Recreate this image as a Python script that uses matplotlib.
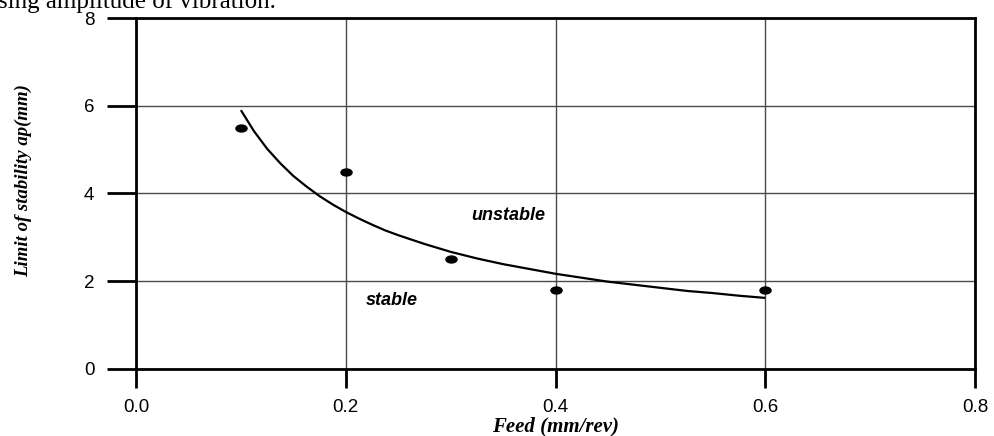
import numpy as np
import matplotlib.pyplot as plt
from matplotlib.path import Path
from matplotlib.transforms import Affine2D

plt.rcParams['font.family'] = 'Liberation Sans'
plt.rcParams['font.size'] = 13.5

# measured points
feed = [0.1, 0.2, 0.3, 0.4, 0.6]
ap = [5.5, 4.5, 2.5, 1.8, 1.8]

# fitted stability limit curve
curve_x = [0.1000, 0.1125, 0.1250, 0.1375, 0.1500, 0.1625, 0.1750, 0.1875,
           0.2000, 0.2125, 0.2250, 0.2375, 0.2500, 0.2750, 0.3000, 0.3250,
           0.3500, 0.3750, 0.4000, 0.4250, 0.4500, 0.4750, 0.5000, 0.5250,
           0.5500, 0.5750, 0.6000]
curve_y = [5.90, 5.42, 5.02, 4.69, 4.40, 4.16, 3.94, 3.75,
           3.58, 3.43, 3.29, 3.16, 3.05, 2.85, 2.67, 2.52,
           2.39, 2.28, 2.17, 2.08, 1.99, 1.92, 1.85, 1.78,
           1.73, 1.67, 1.62]

x_ticks = [0.0, 0.2, 0.4, 0.6, 0.8]
y_ticks = [0, 2, 4, 6, 8]

fig = plt.figure(figsize=(9.95, 4.36), dpi=100)
ax = fig.add_axes([0.1367, 0.1537, 0.8432, 0.805])

# slightly wide dot, like the scanned figure
dot = Path.unit_circle().transformed(Affine2D().scale(1.6, 1.0))

ax.plot(curve_x, curve_y, color='black', lw=1.6, zorder=3,
        solid_joinstyle='round', solid_capstyle='butt')
ax.plot(feed, ap, ls='none', marker=dot, ms=8, color='black', zorder=4)

ax.set_xlim(0.0, 0.8)
ax.set_ylim(0, 8)
ax.set_xticks(x_ticks)
ax.set_xticklabels(['%.1f' % v for v in x_ticks])
ax.set_yticks(y_ticks)
ax.grid(True, color='#4a4a4a', lw=1.0)
ax.set_axisbelow(True)

for s in ax.spines.values():
    s.set_linewidth(2.0)
ax.tick_params(axis='y', direction='out', length=21, width=2.0, pad=9)
ax.tick_params(axis='x', direction='out', length=13.5, width=2.0, pad=8)

ax.text(0.355, 3.49, 'unstable', fontsize=13, style='italic', weight='bold',
        ha='center', va='center')
ax.text(0.244, 1.55, 'stable', fontsize=13, style='italic', weight='bold',
        ha='center', va='center')

ax.set_xlabel('Feed (mm/rev)', family='Liberation Serif', style='italic',
              weight='bold', fontsize=15)
ax.xaxis.set_label_coords(0.5, -0.134)
ax.set_ylabel('Limit of stability ap(mm)', family='Liberation Serif',
              style='italic', weight='bold', fontsize=13.5)
ax.yaxis.set_label_coords(-0.124, 0.536)

# cut-off line of the surrounding page text
fig.text(-0.002, 1 - 8 / 436, 'sing amplitude of vibration.',
         family='Liberation Serif', fontsize=18, va='baseline', ha='left')

fig.savefig('out.png', dpi=100)
